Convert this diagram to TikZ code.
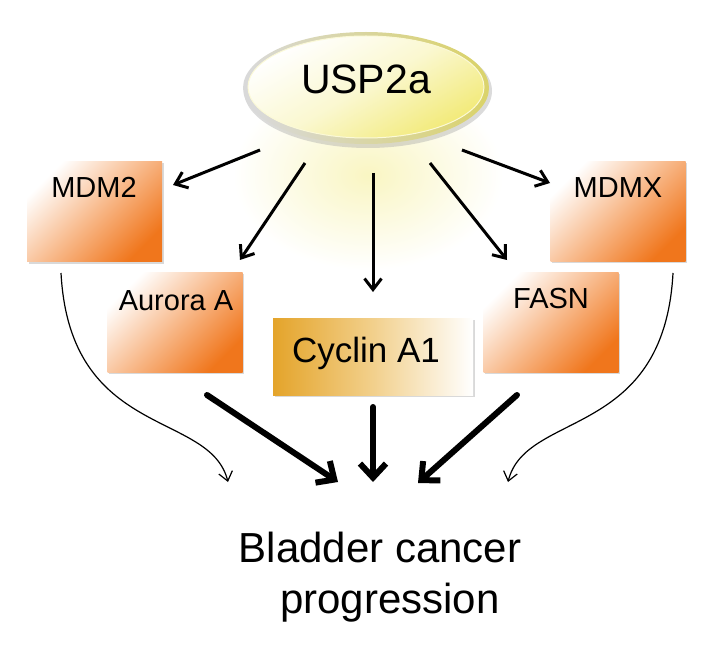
\documentclass[tikz,border=0pt]{standalone}
\usepackage{fontspec}
\setmainfont{Liberation Sans}
\usetikzlibrary{arrows.meta,shadows,shapes.geometric}
\definecolor{orng}{RGB}{240,118,28}
\definecolor{orngmid}{RGB}{248,186,140}
\definecolor{gold}{RGB}{228,164,42}
\definecolor{goldmid}{RGB}{242,208,140}
\definecolor{ylw}{RGB}{242,234,120}
\definecolor{rim}{RGB}{214,208,150}
\begin{document}
\begin{tikzpicture}[x=1pt,y=-1pt,
  obox/.style={draw=none, top color=white, bottom color=orng, middle color=orngmid, shading angle=45,
    minimum width=135pt, minimum height=100pt, inner sep=0pt,
    drop shadow={shadow xshift=1.5pt, shadow yshift=-1.5pt, opacity=0.25, fill=black!60}},
  cbox/.style={draw=none, left color=gold, right color=white, middle color=goldmid,
    minimum width=200pt, minimum height=77pt, inner sep=0pt,
    drop shadow={shadow xshift=1.5pt, shadow yshift=-1.5pt, opacity=0.25, fill=black!60}},
  lbl/.style={font=\fontsize{29}{34}\selectfont, inner sep=0pt, anchor=base},
  toparrow/.style={line width=3pt, -{Straight Barb[length=11pt,width=17pt]}},
  thickarrow/.style={line width=6pt, line cap=round, -{Straight Barb[length=14pt,width=26pt]}},
  thinarrow/.style={line width=1.2pt, -{Straight Barb[length=9pt,width=14pt]}}
]
\useasboundingbox (0,0) rectangle (713,650);

% soft glow below ellipse
\shade[inner color=ylw!45, outer color=white] (368,175) ellipse [x radius=135pt, y radius=95pt];

% USP2a ellipse
\fill[black!35, opacity=0.4] (368,91) ellipse [x radius=124pt, y radius=57pt];
\shade[left color=black!15, right color=ylw!90!black, shading angle=100] (366,88) ellipse [x radius=123pt, y radius=56pt];
\node[ellipse, minimum width=236pt, minimum height=102pt, inner sep=0pt, draw=white!70!ylw, line width=1pt,
  top color=white, bottom color=ylw, middle color=ylw!35, shading angle=30] (usp) at (366,87) {};
\node[font=\fontsize{41}{48}\selectfont, inner sep=0pt, anchor=base] (uspt) at (366,94) {USP2a};

% boxes
\node[obox] (mdm2) at (94.5,212) {};
\node[lbl] (mdm2t) at (94,198) {MDM2};
\node[obox] (aur) at (175,322.5) {};
\node[lbl] (aurt) at (176,310) {Aurora A};
\node[cbox] (cyc) at (373,356.5) {};
\node[font=\fontsize{35}{40}\selectfont, inner sep=0pt, anchor=base] (cyct) at (366,362) {Cyclin A1};
\node[obox] (fasn) at (551,322.5) {};
\node[lbl] (fasnt) at (551,308) {FASN};
\node[obox] (mdmx) at (618,211.5) {};
\node[lbl] (mdmxt) at (618,198) {MDMX};

% outcome text
\node[font=\fontsize{42}{51}\selectfont, inner sep=0pt, anchor=base] (bc1) at (380,562) {Bladder cancer};
\node[font=\fontsize{42}{51}\selectfont, inner sep=0pt, anchor=base] (bc2) at (390,613) {progression};

% coordinates
\coordinate (a1s) at (260,150); \coordinate (a1e) at (173,185);
\coordinate (a2s) at (305,163); \coordinate (a2e) at (240,260);
\coordinate (a3s) at (373,173); \coordinate (a3e) at (373,292);
\coordinate (a4s) at (430,163); \coordinate (a4e) at (507,260);
\coordinate (a5s) at (462,150); \coordinate (a5e) at (550,183);

\coordinate (b1s) at (207,395); \coordinate (b1e) at (338,482);
\coordinate (b2s) at (373,407); \coordinate (b2e) at (373,482);
\coordinate (b3s) at (517,395); \coordinate (b3e) at (418,483);

\coordinate (c1s) at (61,273); \coordinate (c1e) at (228,482);
\coordinate (c2s) at (673,273); \coordinate (c2e) at (508,482);

% top arrows
\draw[toparrow] (a1s) -- (a1e);
\draw[toparrow] (a2s) -- (a2e);
\draw[toparrow] (a3s) -- (a3e);
\draw[toparrow] (a4s) -- (a4e);
\draw[toparrow] (a5s) -- (a5e);

% thick arrows
\draw[thickarrow] (b1s) -- (b1e);
\draw[thickarrow] (b2s) -- (b2e);
\draw[thickarrow] (b3s) -- (b3e);

% thin curved arrows
\draw[thinarrow] (c1s) .. controls (70,440) and (210,410) .. (c1e);
\draw[thinarrow] (c2s) .. controls (664,440) and (526,410) .. (c2e);
\end{tikzpicture}
\end{document}
